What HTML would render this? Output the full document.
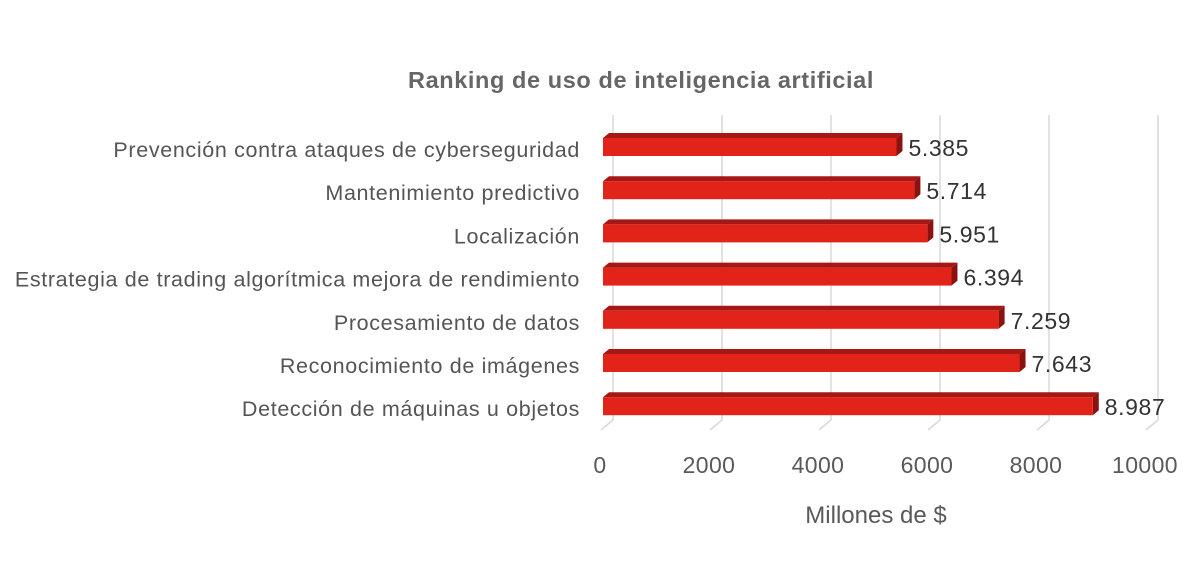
<!DOCTYPE html>
<html><head><meta charset="utf-8"><style>
body{margin:0;background:#fff;width:1202px;height:556px;overflow:hidden}
svg{font-family:"Liberation Sans",sans-serif}
</style></head><body>
<svg width="1202" height="556">
<text x="641" y="88" text-anchor="middle" font-size="23.5" font-weight="bold" letter-spacing="0.6" fill="#666">Ranking de uso de inteligencia artificial</text>
<g id="grid"></g><g id="bars"></g><g id="labels"></g>
<text x="876" y="523" text-anchor="middle" font-size="24" fill="#595959">Millones de $</text>
</svg>
<script>
const categories=["Prevención contra ataques de cyberseguridad","Mantenimiento predictivo","Localización ","Estrategia de trading algorítmica mejora de rendimiento","Procesamiento de datos","Reconocimiento de imágenes","Detección de máquinas u objetos"];
const values=[5385,5714,5951,6394,7259,7643,8987];
const valueLabels=["5.385","5.714","5.951","6.394","7.259","7.643","8.987"];
const ticks=[0,2000,4000,6000,8000,10000];
const NS="http://www.w3.org/2000/svg";
const x0=603,xs=545/10000,dx=6,dy=5;
const X=v=>x0+v*xs;
const Y=i=>145+i*43.2;
function mk(t,a,p){const e=document.createElementNS(NS,t);for(const k in a)e.setAttribute(k,a[k]);p.appendChild(e);return e;}
const g=document.getElementById('grid'),b=document.getElementById('bars'),l=document.getElementById('labels');
ticks.forEach(t=>{
 const x=X(t);
 const ln=mk('path',{d:`M${x-2},${430} L${x+10},${420} L${x+10},${115}`,stroke:'#d9d9d9','stroke-width':1.5,fill:'none'},g);
 
 
 const tx=mk('text',{x:x-3,y:473,'text-anchor':'middle','font-size':23,'letter-spacing':0.4,fill:'#595959'},l);
 tx.textContent=t;
 
 
});
categories.forEach((c,i)=>{
 const y=Y(i),h=18,top=y-h/2+2,xe=X(values[i]);
 const grp=mk('g',{},b);
 
 
 mk('polygon',{points:`${x0},${top} ${x0+dx},${top-dy} ${xe+dx},${top-dy} ${xe},${top}`,fill:'#a51815'},grp);
 mk('polygon',{points:`${xe},${top} ${xe+dx},${top-dy} ${xe+dx},${top+h-dy} ${xe},${top+h}`,fill:'#8a1210'},grp);
 mk('rect',{x:x0,y:top,width:xe-x0,height:h,fill:'#e2231a'},grp);
 const v=mk('text',{x:xe+12,y:y+11,'font-size':23,'letter-spacing':0.6,fill:'#333'},l);
 v.textContent=valueLabels[i];
 
 
 const cl=mk('text',{x:580,y:y+12,'text-anchor':'end','font-size':21.5,'letter-spacing':0.65,fill:'#555'},l);
 cl.textContent=c;
 
 
});
</script>
</body></html>
